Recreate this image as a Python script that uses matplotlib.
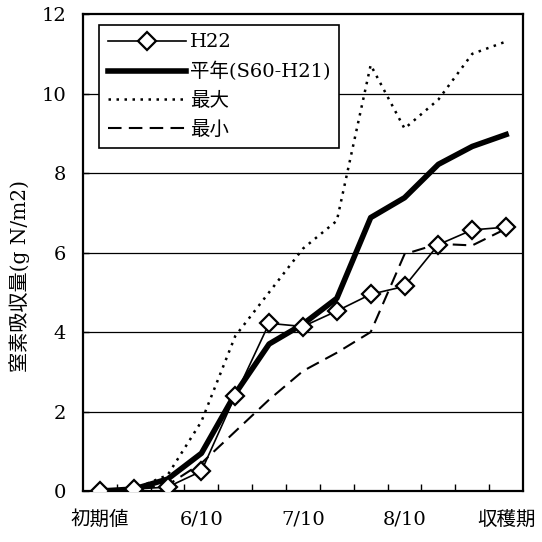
import matplotlib
matplotlib.use("Agg")
import matplotlib.pyplot as plt
from matplotlib.ticker import FixedLocator

plt.rcParams['font.family'] = ['DejaVu Serif', 'Noto Sans CJK JP']

categories = ['初期値', '', '', '6/10', '', '', '7/10', '', '', '8/10', '', '', '収穫期']
h22 = [0, 0.05, 0.1, 0.5, 2.4, 4.22, 4.14, 4.53, 4.95, 5.15, 6.2, 6.57, 6.64]
avg = [0, 0.05, 0.3, 0.95, 2.45, 3.7, 4.2, 4.85, 6.88, 7.38, 8.22, 8.67, 8.97]
vmax = [0, 0.05, 0.4, 1.75, 3.9, 5.0, 6.1, 6.8, 10.72, 9.12, 9.85, 11.0, 11.31]
vmin = [0, 0.05, 0.15, 0.7, 1.5, 2.3, 3.02, 3.48, 4.0, 5.96, 6.22, 6.18, 6.6]
series_names = ['H22', '平年(S60-H21)', '最大', '最小']
yticks = [0, 2, 4, 6, 8, 10, 12]
ylabel = '窒素吸収量(g N/m2)'

x = list(range(len(categories)))

fig = plt.figure(figsize=(5.42, 5.42), dpi=100)
ax = fig.add_axes([0.153, 0.094, 0.812, 0.880])

for v in yticks[1:-1]:
    ax.axhline(v, color='black', lw=0.9, zorder=1)

l_max, = ax.plot(x, vmax, color='black', lw=1.8, linestyle=(0, (1, 2.2)), zorder=2)
l_min, = ax.plot(x, vmin, color='black', lw=1.5, linestyle=(0, (6.5, 3.5)), zorder=2)
l_avg, = ax.plot(x, avg, color='black', lw=4, zorder=3)
l_h22, = ax.plot(x, h22, color='black', lw=1.2, marker='D', markersize=9.5,
                 markerfacecolor='white', markeredgecolor='black', markeredgewidth=1.6, zorder=4)

ax.set_xlim(-0.5, len(categories) - 0.5)
ax.set_ylim(0, 12)
ax.set_yticks(yticks)
ax.tick_params(axis='y', direction='in', length=4, width=1, labelsize=14, pad=12)

ax.xaxis.set_major_locator(FixedLocator([i + 0.5 for i in range(len(categories) - 1)]))
ax.xaxis.set_major_formatter(plt.NullFormatter())
ax.tick_params(axis='x', which='major', direction='in', length=5, width=1)
ax.xaxis.set_minor_locator(FixedLocator(x))
ax.set_xticklabels(categories, minor=True)
ax.tick_params(axis='x', which='minor', length=0, labelsize=14, pad=14)

for s in ax.spines.values():
    s.set_linewidth(1.6)

leg = ax.legend([l_h22, l_avg, l_max, l_min], series_names,
                loc='upper left', bbox_to_anchor=(0.037, 0.978),
                fontsize=14, frameon=True, fancybox=False, edgecolor='black',
                handlelength=4.0, handletextpad=0.2, labelspacing=0.55,
                borderpad=0.45, borderaxespad=0.0)
leg.get_frame().set_linewidth(1.2)
leg.get_frame().set_alpha(1)

fig.text(0.036, 0.49, ylabel, rotation=90, ha='center', va='center', fontsize=14.5,
         family=['DejaVu Serif', 'Noto Sans CJK JP'])

fig.savefig('out.png', dpi=100, facecolor='white')
